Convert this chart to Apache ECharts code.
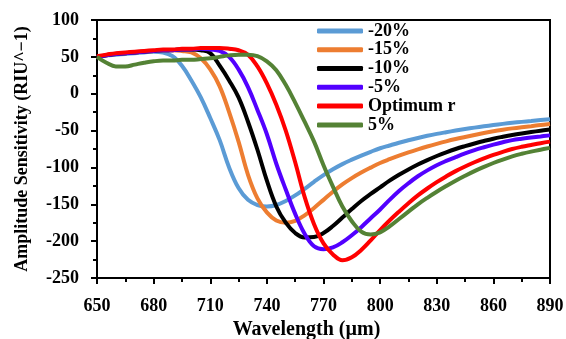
<!DOCTYPE html>
<html>
<head>
<meta charset="utf-8">
<script src="https://cdn.jsdelivr.net/npm/echarts@6/dist/echarts.min.js"></script>
<style>
  html, body { margin: 0; padding: 0; background: #fff; }
  #chart { width: 566px; height: 339px; }
</style>
</head>
<body>
<div id="chart"></div>
<script>
// Wavelength samples (µm), shared by every curve
const wavelengths = [650,655,660,665,670,675,680,685,690,695,700,705,710,715,720,725,730,735,740,745,750,755,760,765,770,775,780,785,790,795,800,805,810,815,820,825,830,835,840,845,850,855,860,865,870,875,880,885,890];

// Amplitude sensitivity (RIU^-1) for each radius variation
const sMinus20 = [50,52,53,54,55,56,57,56,51,38,18,-5,-33,-63,-100,-128,-144,-151,-153,-151,-145.5,-138,-129,-119.5,-110.5,-102.5,-95.5,-89.5,-84,-78.8,-74,-70.2,-66.5,-63.1,-60,-57.1,-54.5,-52.2,-50,-47.9,-46,-44.2,-42.5,-40.9,-39.5,-38.2,-37,-35.7,-34.5];
const sMinus15 = [50,52,54,55,56,57,58,59,59,58,56,48,33,10,-25,-65,-110,-142,-161,-172,-175,-172.5,-165,-155,-144,-133,-123,-114.5,-107,-100.3,-94,-88.8,-84,-79.6,-75.5,-71.6,-68,-64.6,-61.5,-58.7,-56,-53.4,-51,-48.9,-47,-45.4,-44,-42.5,-41];
const sMinus10 = [50,52,54,55,56,57,58,59,59,60,60,59,55,38,18,-5,-38,-76,-118,-153,-175,-189,-195,-194.5,-189,-179.5,-168,-156.5,-145.5,-136,-127,-118,-110,-102.7,-96,-90,-84.5,-79.5,-75,-71.1,-67.5,-64.1,-61,-58.4,-56,-53.9,-52,-50.2,-48.5];
const sMinus5 = [50,52,54,55,56,57,58,59,59,60,60,61,60,58,50,33,9,-22,-55,-95,-130,-163,-190,-207,-211,-208.5,-201.5,-192,-181,-169,-157,-144,-132,-121.5,-112,-104,-97,-91.2,-86,-81,-76.5,-72.6,-69,-65.8,-63,-61.1,-59.5,-58,-56.5];
const sOptimum = [51,53,55,56,57,58,59,60,60,61,61,62,62,62,61,59,53,37,14,-15,-50,-93,-140,-177,-203,-218,-226,-222,-212,-199,-185,-172,-160,-148.6,-138,-128.6,-120,-112.2,-105,-98.7,-93,-87.8,-83,-78.8,-75,-72,-69.5,-67.1,-65];
const sPlus5 = [50,42,37,37,39.5,42,44,45,45,46,46,47,48,50,52,53,53,51,44,32,12,-12,-38,-65,-97,-126,-153,-173,-187,-191,-188,-180,-170,-160,-150,-141.2,-133,-125.3,-118,-111.3,-105,-99.3,-94,-89.3,-85,-81.5,-78.5,-75.9,-73.5];

// Legend names and line colours
const seriesNames = ['-20%', '-15%', '-10%', '-5%', 'Optimum r', '5%'];
const seriesValues = [sMinus20, sMinus15, sMinus10, sMinus5, sOptimum, sPlus5];
const seriesColors = ['#5B9BD5', '#ED7D31', '#000000', '#5200FF', '#FF0000', '#548235'];

// Axis ranges and tick spacing
const xMin = 650, xMax = 890, xStep = 30;
const yMin = -250, yMax = 100, yStep = 50;

const FONT = '"Liberation Serif", "Times New Roman", serif';

const chart = echarts.init(document.getElementById('chart'));

const series = seriesNames.map((name, i) => ({
  name,
  type: 'line',
  data: wavelengths.map((w, k) => [w, seriesValues[i][k]]),
  smooth: 0.4,
  showSymbol: false,
  color: seriesColors[i],
  lineStyle: { width: 4, color: seriesColors[i] }
}));

const labelStyle = { fontFamily: FONT, fontWeight: 'bold', fontSize: 18, color: '#000' };

chart.setOption({
  animation: false,
  backgroundColor: '#fff',
  grid: {
    left: 97, right: 16, top: 20, bottom: 61,
    outerBoundsMode: 'none',
    show: true, borderColor: '#000', borderWidth: 2, backgroundColor: 'transparent'
  },
  legend: {
    orient: 'vertical',
    left: 317, top: 21.5,
    padding: 0,
    itemGap: 0,
    itemWidth: 46, itemHeight: 5,
    icon: 'roundRect',
    textStyle: { fontFamily: FONT, fontWeight: 'bold', fontSize: 18, color: '#000', lineHeight: 18.8 },
    data: seriesNames
  },
  xAxis: {
    type: 'value', min: xMin, max: xMax, interval: xStep,
    // trailing empty rich block nudges the centred title a little to the left
    name: 'Wavelength (µm){gap|}', nameLocation: 'middle', nameGap: 42,
    nameTextStyle: {
      fontFamily: FONT, fontWeight: 'bold', fontSize: 20, color: '#000',
      rich: { gap: { width: 34 } }
    },
    axisLine: { show: true, onZero: false, lineStyle: { color: '#000', width: 2 } },
    axisTick: { show: true, length: 6, lineStyle: { color: '#000', width: 2 } },
    minorTick: { show: true, splitNumber: 2, length: 4, lineStyle: { color: '#000', width: 2 } },
    axisLabel: Object.assign({ margin: 19 }, labelStyle),
    splitLine: { show: false }
  },
  yAxis: {
    type: 'value', min: yMin, max: yMax, interval: yStep,
    name: 'Amplitude Sensitivity (RIU^−1)', nameLocation: 'middle', nameGap: 66, nameRotate: 90,
    nameTextStyle: { fontFamily: FONT, fontWeight: 'bold', fontSize: 18, color: '#000' },
    axisLine: { show: true, onZero: false, lineStyle: { color: '#000', width: 2 } },
    axisTick: { show: true, length: 6, lineStyle: { color: '#000', width: 2 } },
    minorTick: { show: true, splitNumber: 2, length: 4, lineStyle: { color: '#000', width: 2 } },
    axisLabel: Object.assign({ margin: 18 }, labelStyle),
    splitLine: { show: false }
  },
  series
});
</script>
</body>
</html>
